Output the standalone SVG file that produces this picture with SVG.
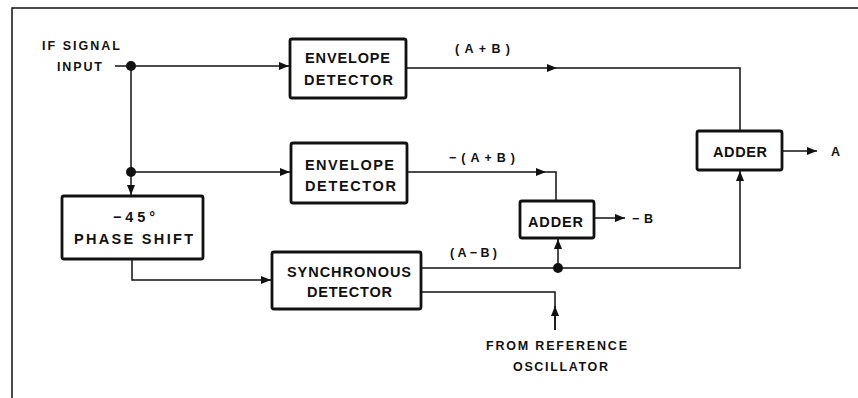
<svg xmlns="http://www.w3.org/2000/svg" width="858" height="398" viewBox="0 0 858 398">
<style>
.box{fill:#fff;stroke:#111;stroke-width:2.8}
.ln{fill:none;stroke:#111;stroke-width:1.5}
.bt{font-family:"Liberation Sans",Arial,sans-serif;font-weight:bold;font-size:14.5px;fill:#111}
.lb{font-family:"Liberation Sans",Arial,sans-serif;font-weight:bold;font-size:12.5px;fill:#111}
.dot{fill:#111}
</style>
<defs>
<marker id="ah" markerUnits="userSpaceOnUse" markerWidth="11" markerHeight="9" refX="10" refY="4" orient="auto">
<path d="M0,0 L10,4 L0,8 z" fill="#111"/>
</marker>
</defs>
<rect width="858" height="398" fill="#fff"/>
<g id="frame">
<path class="ln" d="M12,398 V8 H858" stroke-width="2"/>
</g>
<g id="labels">
<text class="lb" x="42" y="50" textLength="78" lengthAdjust="spacing">IF SIGNAL</text>
<text class="lb" x="57" y="71" textLength="45" lengthAdjust="spacing">INPUT</text>
<text class="lb" x="455" y="53" textLength="55" lengthAdjust="spacing">(A+B)</text>
<text class="lb" x="449" y="162" textLength="66" lengthAdjust="spacing">−(A+B)</text>
<text class="lb" x="450" y="257" textLength="47" lengthAdjust="spacing">(A−B)</text>
<text class="lb" x="632" y="223" textLength="21" lengthAdjust="spacing">−B</text>
<text class="lb" x="831" y="156">A</text>
<text class="lb" x="486" y="350" textLength="141" lengthAdjust="spacing">FROM REFERENCE</text>
<text class="lb" x="513" y="371" textLength="95" lengthAdjust="spacing">OSCILLATOR</text>
</g>
<g id="connectors">
<path class="ln" d="M115,66 H289" marker-end="url(#ah)"/>
<path class="ln" d="M131,66 V195" marker-end="url(#ah)"/>
<path class="ln" d="M131,172 H290" marker-end="url(#ah)"/>
<path class="ln" d="M406,68 H557" marker-end="url(#ah)"/>
<path class="ln" d="M557,68 H740 V131"/>
<path class="ln" d="M407,172 H546" marker-end="url(#ah)"/>
<path class="ln" d="M546,172 H556 V201"/>
<path class="ln" d="M594,218 H625" marker-end="url(#ah)"/>
<path class="ln" d="M782,151 H817" marker-end="url(#ah)"/>
<path class="ln" d="M422,268 H740 V171" marker-end="url(#ah)"/>
<path class="ln" d="M558,268 V239" marker-end="url(#ah)"/>
<path class="ln" d="M422,292 H555 V330"/>
<path class="ln" d="M555,330 V306" marker-end="url(#ah)"/>
<path class="ln" d="M132,259 V280 H271" marker-end="url(#ah)"/>
<circle class="dot" cx="131" cy="66" r="5"/>
<circle class="dot" cx="131" cy="172" r="5"/>
<circle class="dot" cx="558" cy="268" r="5"/>
</g>
<g id="env1">
<rect class="box" x="290" y="39" width="116" height="59" rx="2"/>
<text class="bt" x="305" y="63" textLength="85" lengthAdjust="spacing">ENVELOPE</text>
<text class="bt" x="304" y="85" textLength="89" lengthAdjust="spacing">DETECTOR</text>
</g>
<g id="env2">
<rect class="box" x="291" y="143" width="116" height="60" rx="2"/>
<text class="bt" x="305" y="170" textLength="89" lengthAdjust="spacing">ENVELOPE</text>
<text class="bt" x="305" y="191" textLength="91" lengthAdjust="spacing">DETECTOR</text>
</g>
<g id="phase">
<rect class="box" x="62" y="196" width="141" height="63" rx="2"/>
<text class="bt" x="113" y="222" textLength="42" lengthAdjust="spacing">−45°</text>
<text class="bt" x="74" y="244" textLength="119" lengthAdjust="spacing">PHASE SHIFT</text>
</g>
<g id="sync">
<rect class="box" x="272" y="252" width="149" height="57" rx="2"/>
<text class="bt" x="287" y="277" textLength="124" lengthAdjust="spacing">SYNCHRONOUS</text>
<text class="bt" x="307" y="297" textLength="85" lengthAdjust="spacing">DETECTOR</text>
</g>
<g id="adder1">
<rect class="box" x="520" y="201" width="74" height="37" rx="2"/>
<text class="bt" x="528" y="227" textLength="55" lengthAdjust="spacing">ADDER</text>
</g>
<g id="adder2">
<rect class="box" x="697" y="131" width="85" height="39" rx="2"/>
<text class="bt" x="713" y="157" textLength="54" lengthAdjust="spacing">ADDER</text>
</g>
</svg>
